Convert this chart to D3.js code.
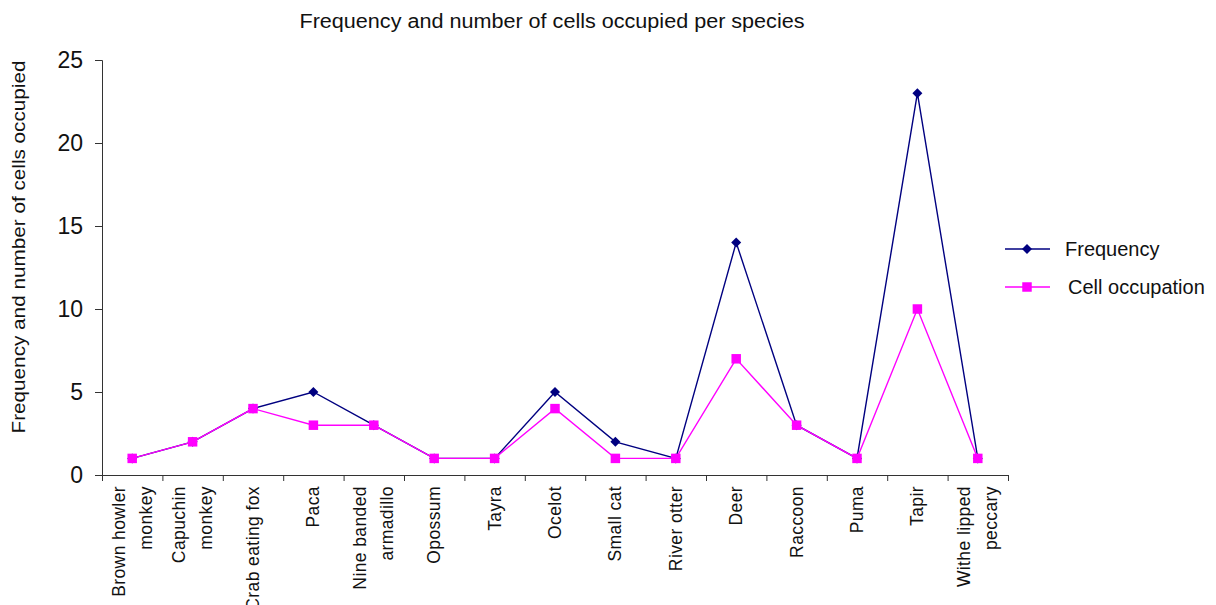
<!DOCTYPE html>
<html>
<head>
<meta charset="utf-8">
<script src="https://cdn.jsdelivr.net/npm/d3@7"></script>
<style>
  body { margin: 0; background: #fff; }
  svg { font-family: "Liberation Sans", Arial, sans-serif; }
</style>
</head>
<body>
<svg id="chart" width="1216" height="605"></svg>
<script>
// species names, "\n" marks where the label wraps
var species = ["Brown howler\nmonkey", "Capuchin\nmonkey", "Crab eating fox", "Paca",
  "Nine banded\narmadillo", "Opossum", "Tayra", "Ocelot", "Small cat", "River otter",
  "Deer", "Raccoon", "Puma", "Tapir", "Withe lipped\npeccary"];
var frequency = [1, 2, 4, 5, 3, 1, 1, 5, 2, 1, 14, 3, 1, 23, 1];
var cellOccupation = [1, 2, 4, 3, 3, 1, 1, 4, 1, 1, 7, 3, 1, 10, 1];
var yTicks = [0, 5, 10, 15, 20, 25];

var svg = d3.select("#chart");
var plotLeft = 102, plotRight = 1008, plotTop = 60, plotBottom = 475;

var x = d3.scaleBand().domain(species).range([plotLeft, plotRight]);
var xEdge = d3.scaleLinear().domain([0, species.length]).range([plotLeft, plotRight]);
var y = d3.scaleLinear().domain([0, 25]).range([plotBottom, plotTop]);

// title
svg.append("text")
  .attr("x", 552).attr("y", 28)
  .attr("text-anchor", "middle")
  .attr("font-size", 20)
  .attr("textLength", 505).attr("lengthAdjust", "spacingAndGlyphs")
  .attr("fill", "#111")
  .text("Frequency and number of cells occupied per species");

// y axis
var yAxis = svg.append("g")
  .attr("transform", "translate(" + plotLeft + ",0)")
  .call(d3.axisLeft(y).tickValues(yTicks).tickSize(7).tickPadding(12));
yAxis.selectAll("text").attr("font-size", 23).attr("fill", "#111");
yAxis.selectAll("line, path").attr("stroke", "#333");

svg.append("text")
  .attr("transform", "translate(25,247) rotate(-90)")
  .attr("text-anchor", "middle")
  .attr("font-size", 18)
  .attr("textLength", 373).attr("lengthAdjust", "spacingAndGlyphs")
  .attr("fill", "#111")
  .text("Frequency and number of cells occupied");

// x axis, ticks at the category edges
var xAxis = svg.append("g")
  .attr("transform", "translate(0," + plotBottom + ")")
  .call(d3.axisBottom(xEdge).ticks(species.length).tickSize(6).tickSizeOuter(0).tickFormat(""));
xAxis.selectAll("line, path").attr("stroke", "#333");

var labels = svg.append("g").selectAll("text")
  .data(species)
  .enter().append("text")
  .attr("transform", function(d) { return "translate(" + (x(d) + x.bandwidth() / 2) + ",486) rotate(-90)"; })
  .attr("text-anchor", "end")
  .attr("font-size", 17.5)
  .attr("letter-spacing", 0.4)
  .attr("fill", "#111");

labels.each(function(d) {
  var lines = d.split("\n");
  var t = d3.select(this);
  lines.forEach(function(line, i) {
    t.append("tspan")
      .attr("x", 0)
      .attr("y", (i - (lines.length - 1) / 2) * 27 + 6)
      .text(line);
  });
});

// series
var series = [
  { name: "Frequency", values: frequency, color: "#000080", symbol: d3.symbolSquare, size: 50, rotate: 45 },
  { name: "Cell occupation", values: cellOccupation, color: "#FF00FF", symbol: d3.symbolSquare, size: 90, rotate: 0 }
];

var line = d3.line()
  .x(function(d, i) { return x(species[i]) + x.bandwidth() / 2; })
  .y(function(d) { return y(d); });

series.forEach(function(s) {
  svg.append("path")
    .datum(s.values)
    .attr("fill", "none")
    .attr("stroke", s.color)
    .attr("stroke-width", 1.4)
    .attr("d", line);

  svg.append("g").selectAll("path")
    .data(s.values)
    .enter().append("path")
    .attr("d", d3.symbol().type(s.symbol).size(s.size))
    .attr("fill", s.color)
    .attr("transform", function(d, i) {
      return "translate(" + (x(species[i]) + x.bandwidth() / 2) + "," + y(d) + ") rotate(" + s.rotate + ")";
    });
});

// legend
var legend = svg.append("g").selectAll("g")
  .data(series)
  .enter().append("g")
  .attr("transform", function(d, i) { return "translate(1005," + (249 + i * 38) + ")"; });

legend.append("line")
  .attr("x1", 0).attr("x2", 45)
  .attr("stroke", function(d) { return d.color; })
  .attr("stroke-width", 1.4);
legend.append("path")
  .attr("transform", function(d) { return "translate(22,0) rotate(" + d.rotate + ")"; })
  .attr("d", function(d) { return d3.symbol().type(d.symbol).size(d.size)(); })
  .attr("fill", function(d) { return d.color; });
legend.append("text")
  .attr("x", function(d, i) { return i === 0 ? 60 : 63; })
  .attr("y", 7)
  .attr("font-size", 20)
  .attr("fill", "#111")
  .text(function(d) { return d.name; });
</script>
</body>
</html>
